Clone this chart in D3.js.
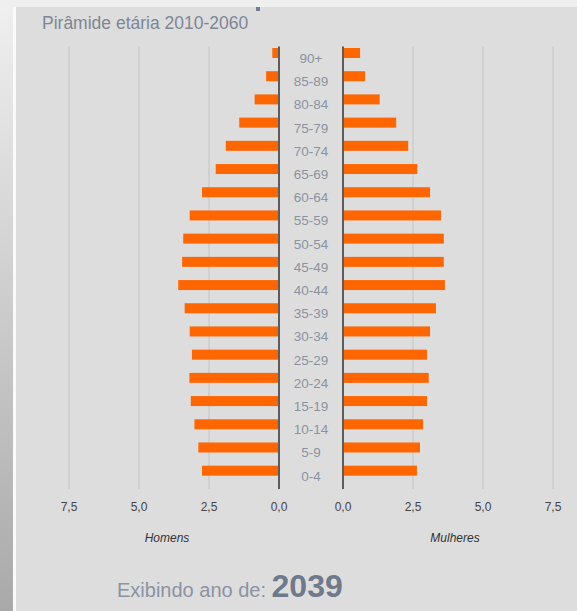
<!DOCTYPE html>
<meta charset="utf-8">
<style>
body { margin: 0; background: #efefef; }
text { font-family: "Liberation Sans", Arial, sans-serif; }
</style>
<body>
<script src="https://d3js.org/d3.v7.min.js"></script>
<script>

// age groups, bottom to top
var ageGroups = ["0-4", "5-9", "10-14", "15-19", "20-24", "25-29", "30-34", "35-39", "40-44",
  "45-49", "50-54", "55-59", "60-64", "65-69", "70-74", "75-79", "80-84", "85-89", "90+"];
// percent of population, year 2039
var homens   = [2.75, 2.88, 3.02, 3.15, 3.20, 3.11, 3.19, 3.37, 3.60, 3.46, 3.42, 3.19, 2.75, 2.26, 1.90, 1.42, 0.87, 0.46, 0.24];
var mulheres = [2.64, 2.75, 2.86, 3.00, 3.06, 3.00, 3.11, 3.32, 3.64, 3.60, 3.60, 3.50, 3.11, 2.65, 2.33, 1.90, 1.31, 0.79, 0.61];
var tickValues = [0, 2.5, 5, 7.5];
var ano = "2039";

var W = 577, H = 611;
var svg = d3.select("body").append("svg")
    .attr("width", W)
    .attr("height", H);

// page background: gradient strip on the left, panel on the right
var grad = svg.append("defs").append("linearGradient")
    .attr("id", "side").attr("x1", 0).attr("y1", 0).attr("x2", 0).attr("y2", 1);
grad.append("stop").attr("offset", "0%").attr("stop-color", "#efefef");
grad.append("stop").attr("offset", "100%").attr("stop-color", "#a9a9a9");

svg.append("rect").attr("x", 0).attr("y", 0).attr("width", W).attr("height", H).attr("fill", "#efefef");
svg.append("rect").attr("x", 0).attr("y", 7).attr("width", 13).attr("height", H - 7).attr("fill", "url(#side)");
svg.append("rect").attr("x", 13).attr("y", 7).attr("width", 3).attr("height", H - 7).attr("fill", "#fafafa");
svg.append("rect").attr("x", 16).attr("y", 7).attr("width", W - 16).attr("height", H - 7).attr("fill", "#dddddd");
// bit of a cut-off heading above
svg.append("rect").attr("x", 256).attr("y", 7).attr("width", 4).attr("height", 4).attr("fill", "#6f7d92");

svg.append("text")
    .attr("x", 42).attr("y", 29)
    .attr("font-size", 17.5)
    .attr("fill", "#7d8795")
    .text("Pirâmide etária 2010-2060");

// scales
var xL = d3.scaleLinear().domain([0, 7.5]).range([279, 69]);
var xR = d3.scaleLinear().domain([0, 7.5]).range([343, 553]);
var y = d3.scalePoint().domain(ageGroups.slice().reverse()).range([53, 470.7]);
var plotTop = 46.5, plotBottom = 489;
var fmt = function(d) { return d3.format(".1f")(d).replace(".", ","); };

// grid lines, the zero line of each side drawn darker
[xL, xR].forEach(function(s) {
  svg.append("g").selectAll("line")
    .data(tickValues)
    .enter().append("line")
      .attr("x1", function(d) { return s(d); })
      .attr("x2", function(d) { return s(d); })
      .attr("y1", plotTop)
      .attr("y2", plotBottom)
      .attr("stroke", function(d) { return d === 0 ? "#5c5c5c" : "#cbcbcb"; })
      .attr("stroke-width", function(d) { return d === 0 ? 2 : 1.5; });
});

// bars
var barH = 10;
var data = ageGroups.map(function(g, i) { return {g: g, h: homens[i], m: mulheres[i]}; });

svg.append("g").selectAll("rect")
    .data(data)
    .enter().append("rect")
      .attr("x", function(d) { return xL(d.h); })
      .attr("y", function(d) { return y(d.g) - barH / 2; })
      .attr("width", function(d) { return xL(0) - xL(d.h) - 1; })
      .attr("height", barH)
      .attr("fill", "#ff6600");

svg.append("g").selectAll("rect")
    .data(data)
    .enter().append("rect")
      .attr("x", xR(0) + 1)
      .attr("y", function(d) { return y(d.g) - barH / 2; })
      .attr("width", function(d) { return xR(d.m) - xR(0) - 1; })
      .attr("height", barH)
      .attr("fill", "#ff6600");

// age labels in the middle
svg.append("g").selectAll("text")
    .data(ageGroups)
    .enter().append("text")
      .attr("x", (xL(0) + xR(0)) / 2)
      .attr("y", function(d) { return y(d) + 10; })
      .attr("text-anchor", "middle")
      .attr("font-size", 13.5)
      .attr("fill", "#8b93a0")
      .text(function(d) { return d; });

// tick labels
[xL, xR].forEach(function(s) {
  svg.append("g").selectAll("text")
    .data(tickValues)
    .enter().append("text")
      .attr("x", function(d) { return s(d); })
      .attr("y", 511)
      .attr("text-anchor", "middle")
      .attr("font-size", 12)
      .attr("fill", "#444")
      .text(fmt);
});

svg.append("text")
    .attr("x", 167).attr("y", 542)
    .attr("text-anchor", "middle")
    .attr("font-size", 12)
    .attr("font-style", "italic")
    .attr("fill", "#333")
    .text("Homens");

svg.append("text")
    .attr("x", 455).attr("y", 542)
    .attr("text-anchor", "middle")
    .attr("font-size", 12)
    .attr("font-style", "italic")
    .attr("fill", "#333")
    .text("Mulheres");

var lbl = svg.append("text")
    .attr("x", 117).attr("y", 597)
    .attr("fill", "#8a93a2");
lbl.append("tspan").attr("font-size", 20).text("Exibindo ano de: ");
lbl.append("tspan").attr("font-size", 32).attr("font-weight", "bold").attr("fill", "#6e7a8c").text(ano);

</script>
</body>
